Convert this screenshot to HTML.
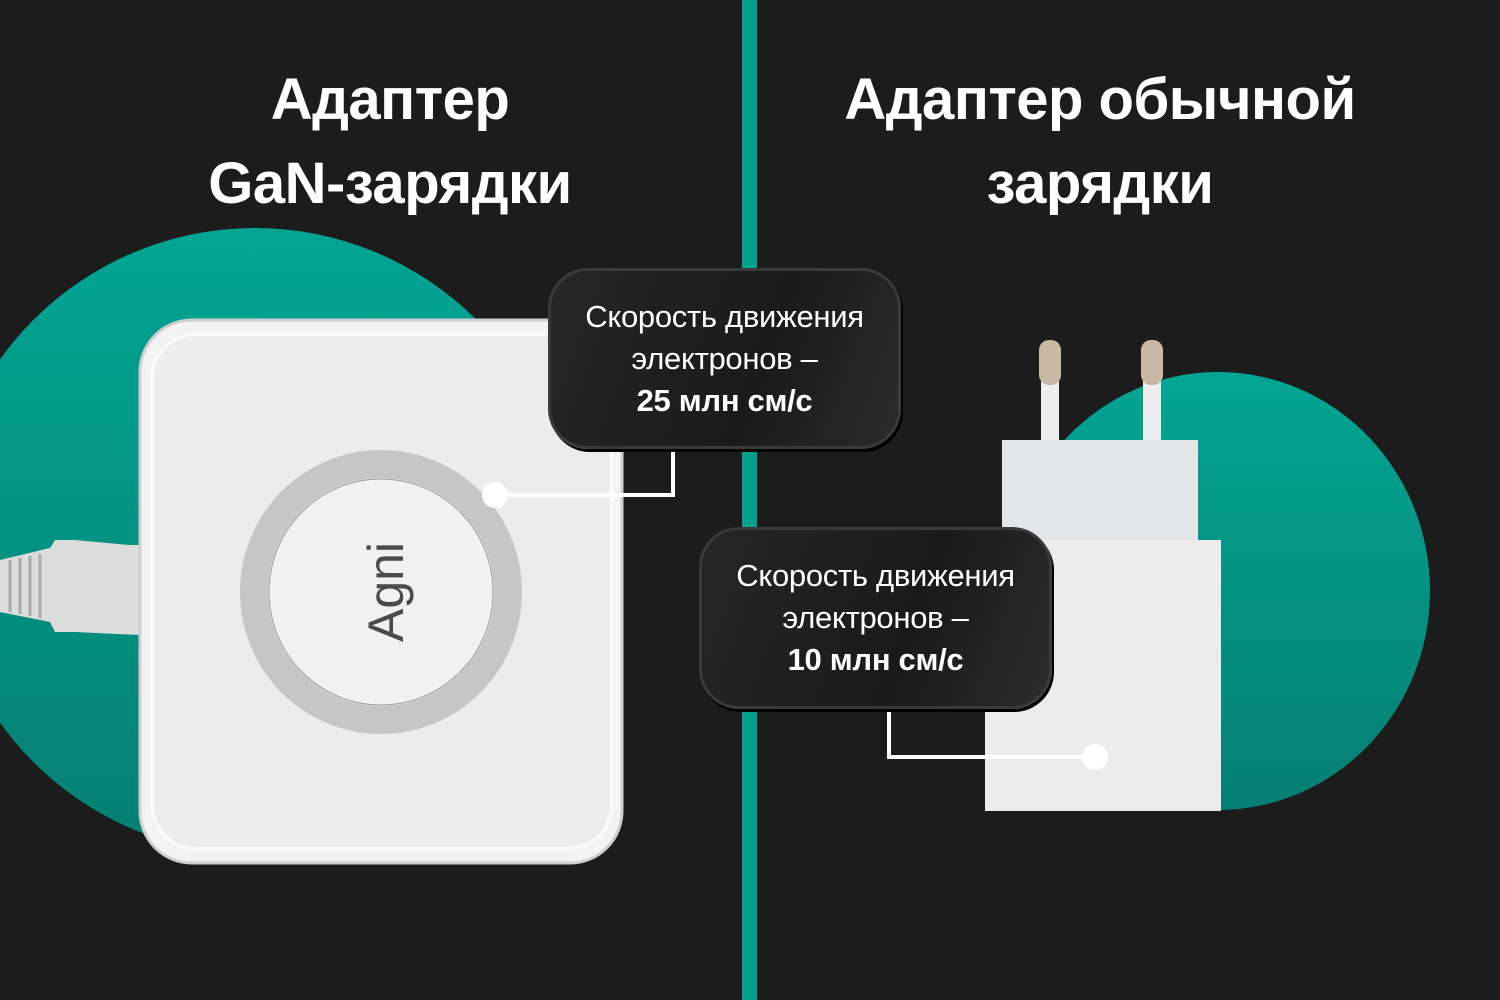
<!DOCTYPE html>
<html><head><meta charset="utf-8"><style>
body{margin:0;width:1500px;height:1000px;overflow:hidden;background:#1c1c1c;font-family:"Liberation Sans",sans-serif}
.t{position:absolute;color:#fff;font-weight:bold;font-size:58px;line-height:84px;text-align:center;letter-spacing:-0.5px}
.c{position:absolute;border-radius:40px;background:linear-gradient(110deg,#262626,#1a1a1a 60%,#2c2c2c);border:3px solid #3a3a3a;box-shadow:2px 3px 0 #000;color:#fff;text-align:center;font-size:31px;line-height:42px;box-sizing:border-box;padding-top:25px;letter-spacing:-0.3px}
.c b{font-weight:bold}
</style></head><body>
<svg width="1500" height="1000" style="position:absolute;left:0;top:0">
<defs>
<linearGradient id="g" x1="0" y1="0" x2="0" y2="1"><stop offset="0" stop-color="#02a593"/><stop offset="1" stop-color="#067f72"/></linearGradient>
</defs>
<circle cx="255" cy="541" r="313" fill="url(#g)"/>
<ellipse cx="1218" cy="591" rx="212" ry="219" fill="url(#g)"/>
<rect x="742" y="0" width="15" height="1000" fill="#02a190"/>
<!-- cable -->
<path d="M0,560 L50,548 L55,540 L75,540 L130,545 L140,545 L140,635 L75,632 L55,632 L50,622 L0,612Z" fill="#dcdcdc"/>
<g stroke="#aaa" stroke-width="3"><line x1="10" y1="560" x2="10" y2="612"/><line x1="20" y1="558" x2="20" y2="614"/><line x1="30" y1="556" x2="30" y2="616"/><line x1="40" y1="554" x2="40" y2="618"/></g>
<!-- device -->
<rect x="140" y="320" width="482" height="543" rx="52" fill="#f3f3f3" stroke="#cfcfcf" stroke-width="3"/>
<rect x="152" y="334" width="460" height="515" rx="44" fill="#ececec" stroke="#fafafa" stroke-width="4"/>
<ellipse cx="381" cy="592" rx="127" ry="128" fill="none" stroke="#c6c6c6" stroke-width="28"/>
<ellipse cx="381" cy="592" rx="112" ry="113" fill="#f1f1f1" stroke="#999" stroke-width="1"/>
<text x="0" y="0" transform="translate(403,592) rotate(-90)" text-anchor="middle" font-family="Liberation Sans" font-size="50" fill="#4a4a4a">Agni</text>
<!-- charger -->
<rect x="1041" y="380" width="18" height="65" fill="#eee"/>
<rect x="1143" y="380" width="18" height="65" fill="#eee"/>
<rect x="1039" y="340" width="22" height="45" rx="10" fill="#c9b9a4"/>
<rect x="1141" y="340" width="22" height="45" rx="10" fill="#c9b9a4"/>
<rect x="1002" y="440" width="196" height="110" fill="#e4e5e8"/>
<rect x="985" y="540" width="236" height="271" fill="#ececec"/>
<!-- connectors -->
<polyline points="673,448 673,495 495,495" fill="none" stroke="#fff" stroke-width="4"/>
<circle cx="495" cy="495" r="13" fill="#fff"/>
<polyline points="889,708 889,757 1095,757" fill="none" stroke="#fff" stroke-width="4"/>
<circle cx="1095" cy="757" r="13" fill="#fff"/>
</svg>
<div class="t" style="left:90px;width:600px;top:58px">Адаптер<br>GaN-зарядки</div>
<div class="t" style="left:800px;width:600px;top:58px">Адаптер обычной<br>зарядки</div>
<div class="c" style="left:548px;top:268px;width:353px;height:181px">Скорость движения<br>электронов –<br><b>25 млн см/с</b></div>
<div class="c" style="left:699px;top:527px;width:353px;height:182px">Скорость движения<br>электронов –<br><b>10 млн см/с</b></div>
</body></html>
